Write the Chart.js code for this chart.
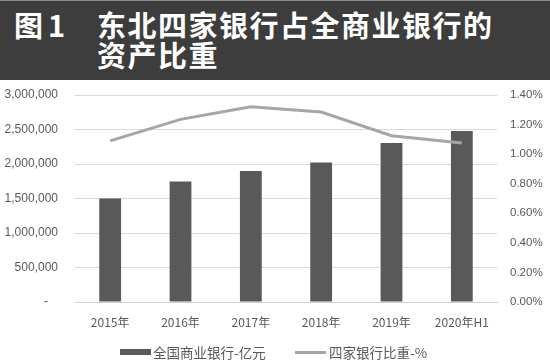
<!DOCTYPE html>
<html>
<head>
<meta charset="utf-8">
<script src="https://cdn.jsdelivr.net/npm/chart.js@4"></script>
<style>
  html, body { margin: 0; padding: 0; background: #ffffff; }
  body { width: 550px; height: 363px; position: relative; overflow: hidden; font-family: "Noto Sans CJK SC", "Noto Sans", sans-serif; }
  #title { position: absolute; left: 0; top: 0; width: 550px; height: 80px; background: #3d3d3d; border-top: 1px solid #8a8a8a; box-sizing: border-box; }
  #title .num { position: absolute; left: 14px; top: 8px; font-size: 29px; font-weight: bold; color: #fff; line-height: 30px; letter-spacing: 5px; }
  #title .txt { position: absolute; left: 97px; top: 8px; font-size: 29px; font-weight: bold; color: #fff; line-height: 30px; letter-spacing: 1.5px; white-space: nowrap; }
  #wrap { position: absolute; left: 0; top: 81px; width: 550px; height: 282px; }
  #legend { position: absolute; top: 343px; left: 0; width: 550px; height: 18px; font-size: 13.5px; color: #595959; }
  .sw { position: absolute; }
  .lt { position: absolute; top: 0; line-height: 18px; white-space: nowrap; }
</style>
</head>
<body>
<div id="title"><span class="num">图1</span><div class="txt">东北四家银行占全商业银行的<br>资产比重</div></div>
<div id="wrap"><canvas id="c" width="550" height="282"></canvas></div>
<div id="legend">
  <div class="sw" style="left:120px; top:6px; width:31px; height:6px; background:#595959;"></div>
  <div class="lt" style="left:153px;" id="l1"></div>
  <div class="sw" style="left:295px; top:8px; width:31px; height:3px; background:#a6a6a6;"></div>
  <div class="lt" style="left:329px;" id="l2"></div>
</div>
<script>
const categories = ["2015年", "2016年", "2017年", "2018年", "2019年", "2020年H1"];
const assetsBankTotal = [1500000, 1745000, 1900000, 2020000, 2305000, 2480000];
const shareFourBanks = [1.09, 1.235, 1.32, 1.285, 1.125, 1.075];
const leftTicks = [0, 500000, 1000000, 1500000, 2000000, 2500000, 3000000];
const rightTicks = [0, 0.2, 0.4, 0.6, 0.8, 1.0, 1.2, 1.4];
const seriesNames = ["全国商业银行-亿元", "四家银行比重-%"];

document.getElementById('l1').textContent = seriesNames[0];
document.getElementById('l2').textContent = seriesNames[1];

const tickColor = '#595959';
new Chart(document.getElementById('c'), {
  data: {
    labels: categories,
    datasets: [
      { type: 'line', label: seriesNames[1], data: shareFourBanks, yAxisID: 'y1',
        borderColor: '#a6a6a6', borderWidth: 3, pointRadius: 0, tension: 0, order: 0, fill: false },
      { type: 'bar', label: seriesNames[0], data: assetsBankTotal, yAxisID: 'y',
        backgroundColor: '#595959', barPercentage: 0.31, categoryPercentage: 1, order: 1 }
    ]
  },
  options: {
    responsive: false,
    animation: false,
    devicePixelRatio: 1,
    layout: { padding: { top: 14, right: 0, bottom: 0, left: 0 } },
    plugins: { legend: { display: false }, tooltip: { enabled: false } },
    scales: {
      x: {
        grid: { display: false, drawTicks: false },
        border: { display: true, color: '#d0d0d0', width: 1 },
        ticks: { color: tickColor, font: { family: '"Noto Sans CJK SC", sans-serif', size: 12 }, padding: 13, maxRotation: 0 },
        afterFit: s => { s.height = 61; s.paddingLeft = 0; s.paddingRight = 0; }
      },
      y: {
        position: 'left', min: 0, max: 3000000,
        afterBuildTicks: s => { s.ticks = leftTicks.map(v => ({ value: v })); },
        grid: { color: '#d9d9d9', drawTicks: false, lineWidth: 1 },
        border: { display: false },
        ticks: { color: tickColor, font: { family: '"Liberation Sans", sans-serif', size: 12 }, padding: 17,
          callback: v => v === 0 ? '-   ' : v.toLocaleString('en-US') },
        afterFit: s => { s.width = 75; s.paddingTop = 0; s.paddingBottom = 0; }
      },
      y1: {
        position: 'right', min: 0, max: 1.4,
        afterBuildTicks: s => { s.ticks = rightTicks.map(v => ({ value: v })); },
        grid: { display: false, drawTicks: false },
        border: { display: false },
        ticks: { color: tickColor, font: { family: '"Liberation Sans", sans-serif', size: 11.5 }, padding: 13,
          callback: v => v.toFixed(2) + '%' },
        afterFit: s => { s.width = 53; s.paddingTop = 0; s.paddingBottom = 0; }
      }
    }
  }
});
</script>
</body>
</html>
